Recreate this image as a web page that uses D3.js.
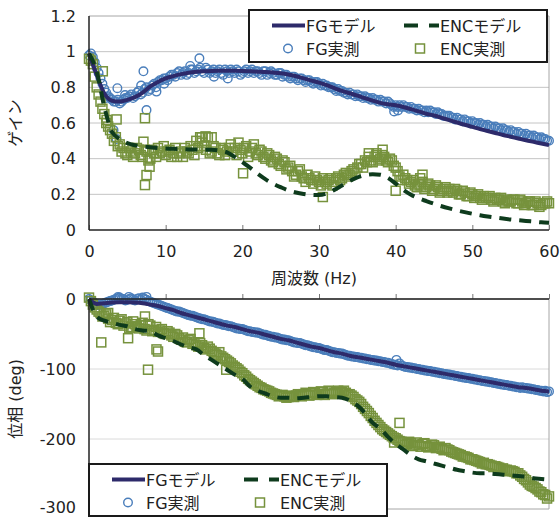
<!DOCTYPE html>
<html><head><meta charset="utf-8">
<script src="https://cdn.jsdelivr.net/npm/d3@7"></script>
<style>body{margin:0;background:#fff}svg{display:block}</style>
</head><body><svg id="c" width="560" height="517"></svg>
<script>
// ---------------- data ----------------
const freqTicks = [0, 10, 20, 30, 40, 50, 60];
const freqTickLabels = ["0", "10", "20", "30", "40", "50", "60"];
const gainTicks = [0, 0.2, 0.4, 0.6, 0.8, 1.0, 1.2];
const gainTickLabels = ["0", "0.2", "0.4", "0.6", "0.8", "1", "1.2"];
const phaseTicks = [0, -100, -200, -300];
const phaseTickLabels = ["0", "-100", "-200", "-300"];
const seriesNames = ["FGモデル", "ENCモデル", "FG実測", "ENC実測"];

const measStep = 0.5;  // measured points: 0, 0.5, ... 60 Hz ; "Mid" arrays at 0.25, 0.75, ... 59.75 Hz
const modelStep = 1;   // model curves: 0, 1, ... 60 Hz

const fgGainMeas = [
  0.98,0.97,0.91,0.85,0.79,0.75,0.73,0.72,0.71,0.73,
  0.74,0.76,0.75,0.78,0.77,0.80,0.79,0.82,0.83,0.84,
  0.85,0.86,0.87,0.88,0.87,0.89,0.88,0.90,0.89,0.91,
  0.88,0.90,0.89,0.88,0.90,0.87,0.89,0.90,0.88,0.89,
  0.88,0.90,0.89,0.88,0.89,0.87,0.89,0.88,0.88,0.87,
  0.88,0.87,0.86,0.86,0.85,0.85,0.84,0.84,0.83,0.83,
  0.82,0.82,0.81,0.80,0.79,0.79,0.78,0.77,0.77,0.76,
  0.76,0.75,0.75,0.74,0.74,0.73,0.73,0.72,0.72,0.70,
  0.70,0.70,0.70,0.69,0.69,0.68,0.68,0.67,0.67,0.67,
  0.66,0.66,0.65,0.64,0.64,0.63,0.63,0.62,0.62,0.61,
  0.61,0.60,0.60,0.59,0.59,0.58,0.58,0.57,0.57,0.56,
  0.56,0.55,0.55,0.54,0.54,0.53,0.53,0.52,0.52,0.51,
  0.50];
const fgGainMeasMid = [
  0.99,0.94,0.88,0.82,0.77,0.74,0.72,0.73,0.72,0.74,
  0.75,0.74,0.77,0.76,0.79,0.78,0.81,0.80,0.84,0.85,
  0.84,0.87,0.86,0.89,0.88,0.87,0.90,0.88,0.90,0.89,
  0.91,0.88,0.90,0.89,0.88,0.90,0.88,0.89,0.90,0.87,
  0.89,0.88,0.90,0.89,0.88,0.89,0.87,0.89,0.87,0.88,
  0.86,0.87,0.85,0.86,0.84,0.85,0.83,0.84,0.82,0.83,
  0.81,0.81,0.80,0.80,0.78,0.78,0.77,0.76,0.76,0.75,
  0.75,0.74,0.74,0.73,0.73,0.72,0.72,0.71,0.71,0.69,
  0.69,0.69,0.69,0.68,0.68,0.67,0.67,0.66,0.66,0.66,
  0.65,0.65,0.64,0.64,0.63,0.62,0.62,0.61,0.61,0.60,
  0.60,0.59,0.59,0.58,0.58,0.57,0.57,0.56,0.56,0.55,
  0.55,0.54,0.54,0.53,0.53,0.52,0.52,0.51,0.51,0.50];
const fgGainExtra = [[3.7,0.795],[7.1,0.89],[7.5,0.673],[14.4,0.963],[18.1,0.85],[3.2,0.56],[3.6,0.51],
  [6.8,0.81],[4.7,0.757],[8.8,0.776],[39.8,0.665],[40.3,0.67],[2.2,0.74],[9.8,0.82],[13.2,0.92],[16.3,0.86]];

const encGainMeas = [
  0.96,0.93,0.80,0.72,0.65,0.58,0.54,0.52,0.48,0.46,
  0.42,0.44,0.43,0.45,0.41,0.44,0.40,0.43,0.46,0.44,
  0.42,0.45,0.43,0.41,0.44,0.46,0.43,0.45,0.50,0.52,
  0.47,0.52,0.44,0.46,0.42,0.45,0.44,0.48,0.46,0.49,
  0.43,0.47,0.44,0.48,0.42,0.44,0.40,0.42,0.38,0.40,
  0.36,0.38,0.35,0.33,0.31,0.34,0.29,0.31,0.28,0.30,
  0.27,0.29,0.26,0.29,0.27,0.30,0.29,0.32,0.31,0.34,
  0.35,0.37,0.39,0.41,0.38,0.42,0.40,0.41,0.38,0.39,
  0.35,0.30,0.31,0.28,0.27,0.25,0.26,0.27,0.24,0.25,
  0.23,0.24,0.22,0.24,0.23,0.21,0.22,0.20,0.21,0.19,
  0.20,0.19,0.18,0.19,0.18,0.17,0.18,0.17,0.16,0.17,
  0.16,0.17,0.15,0.16,0.15,0.16,0.14,0.15,0.14,0.15,
  0.15];
const encGainMeasMid = [
  0.95,0.86,0.76,0.68,0.60,0.56,0.50,0.47,0.44,0.43,
  0.46,0.41,0.46,0.42,0.45,0.39,0.45,0.41,0.43,0.47,
  0.44,0.41,0.46,0.43,0.41,0.44,0.47,0.42,0.46,0.49,
  0.45,0.43,0.47,0.43,0.46,0.42,0.46,0.44,0.42,0.45,
  0.46,0.41,0.46,0.43,0.45,0.41,0.43,0.39,0.41,0.37,
  0.39,0.34,0.36,0.30,0.33,0.30,0.27,0.29,0.26,0.28,
  0.25,0.27,0.28,0.25,0.29,0.28,0.31,0.30,0.33,0.32,
  0.37,0.35,0.38,0.39,0.41,0.39,0.42,0.39,0.40,0.36,
  0.33,0.28,0.29,0.26,0.28,0.24,0.25,0.23,0.26,0.22,
  0.25,0.21,0.23,0.21,0.22,0.23,0.20,0.22,0.19,0.21,
  0.18,0.20,0.17,0.18,0.19,0.16,0.17,0.18,0.15,0.16,
  0.17,0.15,0.17,0.14,0.16,0.14,0.16,0.13,0.15,0.16];
const encGainExtra = [[1.8,0.89],[3.6,0.62],[7.3,0.627],[7.1,0.495],[7.9,0.355],[7.5,0.308],[7.3,0.252],
  [20.1,0.318],[30.5,0.185],[38.3,0.45],[37.5,0.43],[40,0.22],[43.5,0.31],[43.2,0.29],[2.3,0.617],
  [14.7,0.52],[15.2,0.525],[16.0,0.52],[36.5,0.43]];

const fgGainModel = [
  0.99,0.87,0.765,0.725,0.72,0.73,0.745,0.77,0.805,0.83,
  0.85,0.863,0.874,0.882,0.887,0.890,0.892,0.893,0.893,0.893,
  0.892,0.890,0.888,0.886,0.883,0.879,0.872,0.862,0.850,0.838,
  0.826,0.812,0.796,0.780,0.767,0.754,0.739,0.725,0.713,0.705,
  0.699,0.690,0.678,0.665,0.652,0.642,0.629,0.616,0.603,0.590,
  0.578,0.566,0.555,0.544,0.533,0.523,0.513,0.503,0.494,0.485,
  0.476];
const encGainModel = [
  0.99,0.89,0.69,0.55,0.51,0.487,0.475,0.468,0.464,0.460,
  0.457,0.455,0.454,0.452,0.451,0.450,0.450,0.446,0.435,0.410,
  0.380,0.350,0.315,0.285,0.260,0.240,0.222,0.210,0.202,0.197,
  0.196,0.205,0.225,0.250,0.275,0.295,0.308,0.313,0.310,0.292,
  0.260,0.225,0.198,0.178,0.162,0.147,0.133,0.121,0.110,0.100,
  0.091,0.083,0.076,0.070,0.064,0.059,0.055,0.051,0.047,0.043,
  0.040];

const fgPhaseMeas = [
  0,-4,-7,-8,-6,-4,-2,0,2,0,
  -1,1,-2,1,2,-1,-4,-6,-8,-10,
  -12,-14,-16,-18,-19,-21,-23,-24,-26,-28,
  -29,-31,-32,-34,-35,-37,-38,-39,-41,-42,
  -43,-45,-46,-47,-48,-50,-51,-53,-54,-55,
  -57,-58,-59,-61,-62,-63,-65,-66,-68,-69,
  -70,-72,-73,-75,-76,-77,-78,-80,-81,-82,
  -83,-84,-85,-86,-87,-88,-89,-90,-91,-93,
  -94,-92,-96,-97,-98,-99,-100,-101,-102,-103,
  -104,-105,-106,-107,-108,-109,-110,-111,-112,-113,
  -114,-115,-116,-117,-118,-119,-120,-121,-122,-123,
  -124,-125,-126,-126,-127,-128,-129,-130,-131,-131,
  -132];
const fgPhaseMeasMid = [
  -2,-6,-9,-7,-5,-3,-1,1,0,-2,
  0,-1,0,-1,0,-3,-5,-7,-9,-11,
  -13,-15,-17,-18,-20,-22,-24,-25,-27,-29,
  -30,-32,-33,-35,-36,-37,-39,-40,-42,-43,
  -44,-46,-47,-48,-49,-51,-52,-54,-55,-56,
  -58,-59,-60,-62,-63,-64,-66,-67,-69,-70,
  -71,-73,-74,-76,-77,-78,-79,-81,-82,-83,
  -84,-85,-86,-87,-88,-89,-90,-91,-92,-94,
  -95,-95,-97,-98,-99,-100,-101,-102,-103,-104,
  -105,-106,-107,-108,-109,-110,-111,-112,-113,-114,
  -115,-116,-117,-118,-119,-120,-121,-122,-123,-124,
  -125,-126,-127,-127,-128,-129,-130,-131,-132,-133];
const fgPhaseExtra = [[3.8,3],[5.2,3],[7.5,3],[40.1,-87]];

const encPhaseMeas = [
  2,-8,-15,-20,-24,-28,-30,-34,-31,-38,
  -33,-40,-36,-42,-34,-45,-38,-44,-47,-43,
  -50,-48,-54,-52,-58,-61,-59,-64,-66,-63,
  -70,-68,-74,-78,-76,-84,-88,-92,-97,-101,
  -106,-111,-116,-120,-124,-127,-130,-132,-135,-137,
  -138,-139,-140,-139,-138,-137,-136,-137,-135,-134,
  -136,-133,-135,-132,-134,-131,-133,-134,-136,-140,
  -145,-150,-157,-163,-170,-177,-183,-188,-192,-196,
  -199,-203,-205,-207,-206,-208,-209,-207,-210,-211,
  -209,-212,-214,-213,-216,-219,-221,-223,-225,-227,
  -229,-231,-233,-234,-236,-238,-239,-241,-242,-244,
  -245,-247,-249,-254,-259,-265,-268,-272,-276,-280,
  -282];
const encPhaseMeasMid = [
  -3,-12,-18,-25,-22,-33,-27,-36,-29,-35,
  -41,-32,-39,-37,-43,-36,-46,-40,-45,-49,
  -46,-52,-50,-56,-55,-62,-57,-62,-68,-66,
  -72,-71,-76,-80,-82,-86,-90,-95,-99,-104,
  -109,-114,-118,-122,-126,-129,-131,-134,-136,-139,
  -137,-141,-138,-140,-136,-139,-134,-138,-133,-137,
  -132,-137,-131,-136,-133,-135,-131,-137,-138,-143,
  -147,-154,-160,-167,-174,-180,-186,-190,-194,-198,
  -201,-204,-208,-204,-210,-205,-211,-206,-212,-208,
  -213,-211,-216,-215,-218,-220,-222,-225,-226,-229,
  -230,-232,-235,-236,-237,-240,-240,-243,-244,-246,
  -246,-249,-252,-257,-262,-267,-270,-275,-279,-285];
const encPhaseExtra = [[1.6,-62],[7.7,-101],[7.3,-25],[9,-75],[14.4,-49],[5.1,-56],[8.8,-72],
  [17.9,-101],[40.5,-177],[39.8,-205],[6.2,-40],[2.5,-20]];

const fgPhaseModel = [
  0,-7,-6,-5,-4.5,-4.5,-5,-6,-8,-10,
  -13,-16,-20,-23,-26,-29,-32,-35,-38,-40,
  -43,-46,-48,-51,-54,-57,-59,-62,-65,-68,
  -70,-73,-76,-78,-81,-83,-85,-87,-89,-91,
  -94,-96,-98,-100,-102,-104,-106,-108,-110,-112,
  -114,-116,-118,-120,-122,-124,-126,-127,-129,-131,
  -132];
const encPhaseModel = [
  0,-25,-31,-34,-37,-39,-43,-45,-46,-52,
  -56,-60,-65,-69,-72,-80,-87,-94,-101,-108,
  -114,-125,-131,-135,-139,-141,-141,-142,-141,-140,
  -139,-139,-140,-141,-145,-152,-163,-177,-185,-197,
  -207,-215,-223,-229,-232,-235,-238,-241,-244,-246,
  -248,-249,-249,-250,-251,-252,-253,-254,-256,-257,
  -258];

// ---------------- drawing ----------------
const FONT = "'DejaVu Sans','Noto Sans CJK JP',sans-serif";
const C_FG = "#4a7ebb", C_ENC = "#76923c", C_FGM = "#2d2a6a", C_ENCM = "#0e3b1d";
const svg = d3.select("#c").style("font-family", FONT);

const xTop = d3.scaleLinear().domain([0, 60]).range([89, 549]);
const yTop = d3.scaleLinear().domain([0, 1.2]).range([230, 16]);
const xBot = d3.scaleLinear().domain([0, 60]).range([89, 549]);
const yBot = d3.scaleLinear().domain([-300, 0]).range([509, 299]);

const toPts = (arr, step, off = 0) => arr.map((v, i) => [off + i * step, v]);
const allMeas = (main, mid, extra) =>
  toPts(main, measStep).concat(toPts(mid, measStep, measStep / 2)).concat(extra);

function frame(g, x, y, ticks, gridColor, yTopVal, yBotVal, bottomBlack) {
  ticks.forEach(t => {
    if (t === yBotVal && bottomBlack) return;
    g.append("line").attr("x1", x.range()[0]).attr("x2", x.range()[1])
      .attr("y1", y(t)).attr("y2", y(t))
      .attr("stroke", (t === yTopVal || t === yBotVal) ? "#a6a6a6" : gridColor).attr("stroke-width", 1);
  });
  g.append("line").attr("x1", x.range()[1]).attr("x2", x.range()[1])
    .attr("y1", y.range()[1]).attr("y2", y.range()[0]).attr("stroke", "#a6a6a6").attr("stroke-width", 1);
}

function drawCircles(g, x, y, pts) {
  g.append("g").selectAll("circle").data(pts).join("circle")
    .attr("cx", d => x(d[0])).attr("cy", d => y(d[1])).attr("r", 4.3)
    .attr("fill", "none").attr("stroke", C_FG).attr("stroke-width", 1.4);
}
function drawSquares(g, x, y, pts) {
  g.append("g").selectAll("rect").data(pts).join("rect")
    .attr("x", d => x(d[0]) - 4.5).attr("y", d => y(d[1]) - 4.5).attr("width", 9).attr("height", 9)
    .attr("fill", "none").attr("stroke", C_ENC).attr("stroke-width", 1.5);
}

// ---- top plot ----
const gT = svg.append("g");
frame(gT, xTop, yTop, gainTicks, "#c4c4c4", 1.2, 0, true);

const axL = gT.append("g").attr("transform", "translate(89,0)")
  .call(d3.axisLeft(yTop).tickValues(gainTicks).tickFormat((d, i) => gainTickLabels[i]).tickSize(0).tickPadding(13));
axL.select(".domain").remove();
axL.selectAll("text").attr("font-size", 16).attr("fill", "#222").style("font-family", FONT);

const axB = gT.append("g").attr("transform", "translate(0,230)")
  .call(d3.axisBottom(xTop).tickValues(freqTicks).tickFormat((d, i) => freqTickLabels[i]).tickSizeInner(-5).tickSizeOuter(0).tickPadding(16));
axB.select(".domain").remove();
axB.selectAll("line").attr("stroke", "#777");
axB.selectAll("text").attr("font-size", 16).attr("fill", "#222").style("font-family", FONT);

drawCircles(gT, xTop, yTop, allMeas(fgGainMeas, fgGainMeasMid, fgGainExtra));
drawSquares(gT, xTop, yTop, allMeas(encGainMeas, encGainMeasMid, encGainExtra));

const lineT = d3.line().x(d => xTop(d[0])).y(d => yTop(d[1])).curve(d3.curveMonotoneX);
gT.append("path").attr("d", lineT(toPts(fgGainModel, modelStep))).attr("fill", "none")
  .attr("stroke", C_FGM).attr("stroke-width", 4);
gT.append("path").attr("d", lineT(toPts(encGainModel, modelStep))).attr("fill", "none")
  .attr("stroke", C_ENCM).attr("stroke-width", 4).attr("stroke-dasharray", "12,8");

gT.append("line").attr("x1", 89).attr("x2", 89).attr("y1", 16).attr("y2", 230).attr("stroke", "#222").attr("stroke-width", 1.5);
gT.append("line").attr("x1", 89).attr("x2", 549).attr("y1", 230).attr("y2", 230).attr("stroke", "#222").attr("stroke-width", 1.5);

// ---- bottom plot ----
const gB = svg.append("g");
frame(gB, xBot, yBot, phaseTicks, "#dadada", 0, -300, false);

const axL2 = gB.append("g").attr("transform", "translate(89,0)")
  .call(d3.axisLeft(yBot).tickValues(phaseTicks).tickFormat((d, i) => phaseTickLabels[i]).tickSize(0).tickPadding(13));
axL2.select(".domain").remove();
axL2.selectAll("text").attr("font-size", 16).attr("fill", "#222").style("font-family", FONT)
  .attr("dy", d => d === -300 ? "0.2em" : "0.32em");

const axT2 = gB.append("g").attr("transform", "translate(0,299)")
  .call(d3.axisTop(xBot).tickValues(freqTicks).tickFormat("").tickSizeInner(5).tickSizeOuter(0));
axT2.select(".domain").remove();
axT2.selectAll("line").attr("stroke", "#777");

drawCircles(gB, xBot, yBot, allMeas(fgPhaseMeas, fgPhaseMeasMid, fgPhaseExtra));
drawSquares(gB, xBot, yBot, allMeas(encPhaseMeas, encPhaseMeasMid, encPhaseExtra));

const lineB = d3.line().x(d => xBot(d[0])).y(d => yBot(d[1])).curve(d3.curveMonotoneX);
gB.append("path").attr("d", lineB(toPts(fgPhaseModel, modelStep))).attr("fill", "none")
  .attr("stroke", C_FGM).attr("stroke-width", 4);
gB.append("path").attr("d", lineB(toPts(encPhaseModel, modelStep))).attr("fill", "none")
  .attr("stroke", C_ENCM).attr("stroke-width", 4).attr("stroke-dasharray", "12,8");

gB.append("line").attr("x1", 89).attr("x2", 89).attr("y1", 299).attr("y2", 509).attr("stroke", "#222").attr("stroke-width", 1.5);
gB.append("line").attr("x1", 89).attr("x2", 549).attr("y1", 299).attr("y2", 299).attr("stroke", "#222").attr("stroke-width", 1.5);

// ---- titles ----
svg.append("text").attr("x", 314).attr("y", 284).attr("text-anchor", "middle")
  .attr("font-size", 16).attr("fill", "#222").text("周波数 (Hz)");
svg.append("text").attr("transform", "translate(21,123) rotate(-90)").attr("text-anchor", "middle")
  .attr("font-size", 16).attr("fill", "#222").text("ゲイン");
svg.append("text").attr("transform", "translate(21,399) rotate(-90)").attr("text-anchor", "middle")
  .attr("font-size", 16).attr("fill", "#222").text("位相 (deg)");

// ---- legends ----
function legend(x0, y0) {
  const g = svg.append("g").attr("transform", `translate(${x0},${y0})`);
  g.append("rect").attr("x", 0).attr("y", 0).attr("width", 298).attr("height", 52)
    .attr("fill", "#fff").attr("stroke", "#1a1a1a").attr("stroke-width", 2);
  const r1 = 15.5, r2 = 38.5;
  g.append("line").attr("x1", 23).attr("x2", 56).attr("y1", r1).attr("y2", r1).attr("stroke", C_FGM).attr("stroke-width", 4);
  g.append("line").attr("x1", 155).attr("x2", 190).attr("y1", r1).attr("y2", r1).attr("stroke", C_ENCM).attr("stroke-width", 4).attr("stroke-dasharray", "14,11");
  g.append("circle").attr("cx", 39).attr("cy", r2).attr("r", 4.3).attr("fill", "none").attr("stroke", C_FG).attr("stroke-width", 1.4);
  g.append("rect").attr("x", 171 - 4.5).attr("y", r2 - 4.5).attr("width", 9).attr("height", 9).attr("fill", "none").attr("stroke", C_ENC).attr("stroke-width", 1.5);
  const tx = [[57, r1, seriesNames[0]], [191, r1, seriesNames[1]], [57, r2, seriesNames[2]], [191, r2, seriesNames[3]]];
  tx.forEach(([x, y, t]) => g.append("text").attr("x", x).attr("y", y + 6).attr("font-size", 16).attr("fill", "#222").text(t));
}
legend(249, 10);
legend(89, 464);
</script></body></html>
